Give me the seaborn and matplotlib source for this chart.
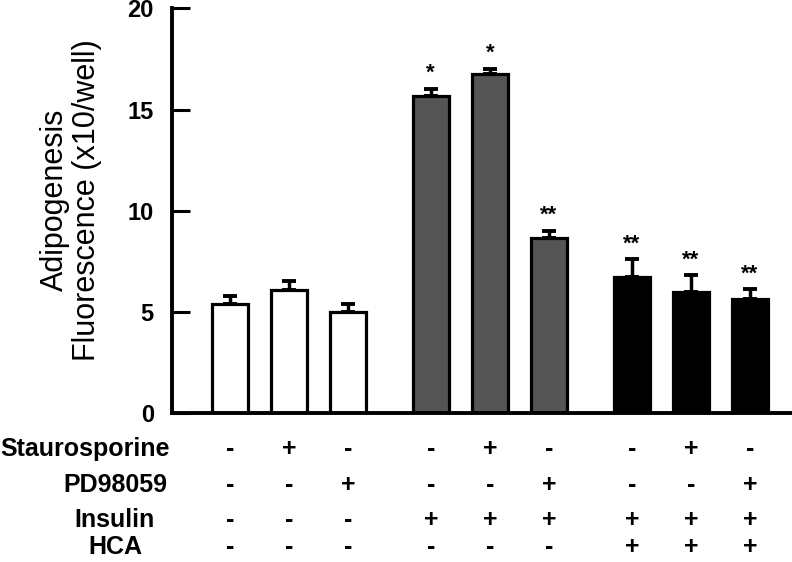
import numpy as np
import pandas as pd
import seaborn as sns
import matplotlib.pyplot as plt

# Values
conditions = ['C1', 'C2', 'C3', 'C4', 'C5', 'C6', 'C7', 'C8', 'C9']
groups = [0, 0, 0, 1, 1, 1, 2, 2, 2]
means = [5.37, 6.1, 4.98, 15.66, 16.75, 8.67, 6.75, 6.0, 5.66]
errors = [0.4, 0.45, 0.42, 0.35, 0.25, 0.33, 0.85, 0.8, 0.45]
stars = ['', '', '', '*', '*', '**', '**', '**', '**']
fill_colors = ['white', 'white', 'white', '#555555', '#555555', '#555555',
               'black', 'black', 'black']

row_names = ['Staurosporine', 'PD98059', 'Insulin', 'HCA']
staurosporine = ['-', '+', '-', '-', '+', '-', '-', '+', '-']
pd98059 = ['-', '-', '+', '-', '-', '+', '-', '-', '+']
insulin = ['-', '-', '-', '+', '+', '+', '+', '+', '+']
hca = ['-', '-', '-', '-', '-', '-', '+', '+', '+']

sns.set_theme(style='ticks', rc={'axes.edgecolor': 'black', 'text.color': 'black',
                                 'xtick.color': 'black', 'ytick.color': 'black',
                                 'axes.labelcolor': 'black'})
plt.rcParams['font.family'] = ['Liberation Sans', 'DejaVu Sans']

# bar positions: unit spacing, extra gap between treatment groups
pos = [i + 0.4 * g for i, g in enumerate(groups)]
df = pd.DataFrame({'pos': pos, 'value': means, 'cond': conditions})

fig = plt.figure(figsize=(7.92, 5.62), dpi=100)
ax = fig.add_axes([0.217, 0.265, 0.783, 0.72])

sns.barplot(data=df, x='pos', y='value', hue='cond', palette=fill_colors,
            native_scale=True, width=0.6, edgecolor='black', linewidth=2.3,
            legend=False, errorbar=None, dodge=False, ax=ax)

centers = [p.get_x() + p.get_width() / 2 for p in ax.patches]
ax.errorbar(centers, means, yerr=[np.zeros(len(errors)), errors], fmt='none',
            ecolor='black', elinewidth=2.5, capsize=5, capthick=2.8, zorder=1)
for c, m, e, s in zip(centers, means, errors, stars):
    if s:
        ax.text(c, m + e + 0.25, s, ha='center', va='bottom', fontsize=16,
                fontweight='bold')

ax.set_ylim(0, 20)
ax.set_xlim(-0.98, 9.51)
ax.set_yticks([0, 5, 10, 15, 20])
ax.set_yticklabels(['0', '5', '10', '15', '20'], fontsize=17, fontweight='bold')
ax.tick_params(axis='y', direction='in', length=13, width=2.2, pad=13)
ax.tick_params(axis='x', length=0)
ax.set_xticks([])
ax.set_xlabel('')
ax.set_ylabel('')
for side in ['top', 'right']:
    ax.spines[side].set_visible(False)
ax.spines['left'].set_linewidth(2.8)
ax.spines['bottom'].set_linewidth(2.8)

fig.text(71 / 792, 1 - 200 / 562, 'Adipogenesis\nFluorescence (x10/well)',
         rotation=90, ha='center', va='center', multialignment='center',
         fontsize=22, linespacing=1.1)

# treatment table under the axis
rows = [staurosporine, pd98059, insulin, hca]
row_y = [449, 485, 520, 547]
for name, signs, ypix in zip(row_names, rows, row_y):
    yf = 1 - ypix / 562
    if name == 'Staurosporine':
        fig.text(0.0, yf, name, ha='left', va='center', fontsize=18,
                 fontweight='bold')
    else:
        fig.text(115 / 792, yf, name, ha='center', va='center', fontsize=18,
                 fontweight='bold')
    for c, s in zip(centers, signs):
        xf = fig.transFigure.inverted().transform(
            ax.transData.transform((c, 0)))[0]
        fig.text(xf, yf, s, ha='center', va='center', fontsize=18,
                 fontweight='bold')

plt.savefig('out.png', dpi=100)
